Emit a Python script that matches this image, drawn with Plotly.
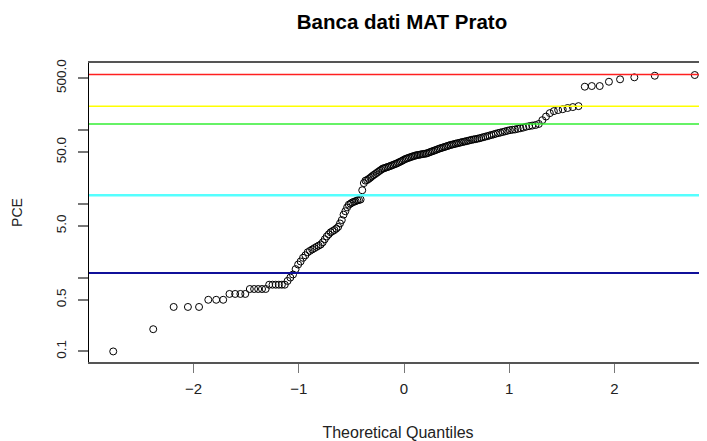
import plotly.graph_objects as go
from statistics import NormalDist

chart_title = "Banca dati MAT Prato"
x_title = "Theoretical Quantiles"
y_title = "PCE"

# PCE values (sorted)
pce = [0.1, 0.2, 0.4, 0.4, 0.4, 0.5, 0.5, 0.5, 0.6, 0.6, 0.6, 0.6,
       0.7, 0.7, 0.7, 0.7, 0.7, 0.8, 0.8, 0.8, 0.8, 0.8, 0.8,
       0.9, 1.0, 1.1, 1.3, 1.5, 1.65, 1.85, 2.0, 2.2, 2.3, 2.4, 2.5, 2.6, 2.7, 2.8,
       3.0, 3.3, 3.6, 3.85, 4.1, 4.25, 4.4, 4.6, 4.85, 5.4, 6.0, 7.1, 7.9, 8.9, 9.7,
       10.0, 10.4, 10.6, 10.8, 11.1, 11.2, 11.4, 15.2, 19.0, 20.5,
       20.9, 21.6, 22.4, 23.4, 24.3, 25.1, 26.0, 26.9, 27.9, 28.8, 29.9, 30.2, 30.8,
       31.3, 31.8, 32.4, 33.0, 33.6, 34.3, 34.9, 35.7, 36.6, 37.4, 38.3, 39.4, 40.3,
       41.0, 41.7, 42.4, 43.1, 43.8, 44.4, 45.1, 45.6, 45.9, 46.3, 46.8, 47.1, 47.5,
       47.9, 48.8, 49.8, 50.7, 51.6, 52.5, 53.5, 54.6, 55.6, 56.5, 57.4, 58.3, 59.3,
       60.3, 61.4, 62.4, 63.1, 64.0, 64.9, 65.8, 66.5, 67.5, 68.4, 69.2, 70.1, 71.1,
       72.1, 73.1, 74.0, 74.8, 75.7, 76.7, 78.0, 79.4, 80.7, 82.0, 83.6, 85.1, 86.7,
       88.5, 90.2, 91.6, 93.3, 95.1, 97.0, 98.9, 100, 101, 103, 105, 107, 110, 112,
       114, 116, 120, 135, 151, 168, 179, 185, 190, 197, 203, 209,
       383, 391, 391, 447, 482, 513, 539, 551]

# horizontal reference lines
thresholds = [1.15, 13, 120, 208, 560]
threshold_colors = ["#10109a", "#55ffff", "#33ee33", "#ffff00", "#ff2020"]
threshold_widths = [2, 2.5, 1.6, 1.6, 1.3]

y_tickvals = [0.1, 0.5, 1, 5, 10, 50, 100, 500]
y_ticktext = ["0.1", "0.5", "", "5.0", "", "50.0", "", "500.0"]
x_tickvals = [-2, -1, 0, 1, 2]

# theoretical normal quantiles (as R's qqnorm / ppoints)
n = len(pce)
a = 3 / 8 if n <= 10 else 0.5
nd = NormalDist()
tq = [nd.inv_cdf((i - a) / (n + 1 - 2 * a)) for i in range(1, n + 1)]

x_range = [-2.994, 2.880]
y_range = [-1.143, 2.904]

fig = go.Figure()
fig.add_trace(go.Scatter(
    x=tq, y=pce, mode="markers",
    marker=dict(symbol="circle-open", size=7, color="black", line=dict(width=1)),
    showlegend=False, hoverinfo="x+y"))

for v, c, w in zip(thresholds, threshold_colors, threshold_widths):
    fig.add_trace(go.Scatter(x=x_range, y=[v, v], mode="lines",
                             line=dict(color=c, width=w),
                             showlegend=False, hoverinfo="skip"))

font_family = "Liberation Sans, Arial, sans-serif"

# the page body adds an 8px offset, so the figure is 8px smaller than the window
W, H = 699, 433

fig.update_layout(
    width=W, height=H,
    margin=dict(l=81, r=0, t=55, b=79, autoexpand=False),
    paper_bgcolor="white", plot_bgcolor="white",
    font=dict(family=font_family, color="#222", size=14),
    title=dict(text="<b>" + chart_title + "</b>", x=394 / W, xref="container",
               xanchor="center", y=1 - 14 / H, yref="container", yanchor="middle",
               font=dict(size=20.5, color="black", family=font_family)),
    xaxis=dict(range=x_range, tickvals=x_tickvals, ticks="outside", ticklen=9,
               tickcolor="#777", tickwidth=1, showline=True, linecolor="#555",
               linewidth=1.5, mirror=True, showgrid=False, zeroline=False,
               automargin=False, ticklabelstandoff=3,
               tickfont=dict(size=15, color="#222"),
               title=dict(text=x_title, font=dict(size=16, color="#222"), standoff=33)),
    yaxis=dict(type="log", range=y_range, tickvals=y_tickvals, ticktext=y_ticktext,
               ticks="outside", ticklen=10, tickcolor="#777", tickwidth=1.5,
               showline=True, linecolor="black", linewidth=1, mirror=False,
               showgrid=False, zeroline=False, tickangle=-90, automargin=False,
               ticklabelstandoff=7,
               tickfont=dict(size=13.5, color="#222"),
               title=dict(text=y_title, font=dict(size=14, color="#222"), standoff=27)),
)

fig.write_html("out.html")
